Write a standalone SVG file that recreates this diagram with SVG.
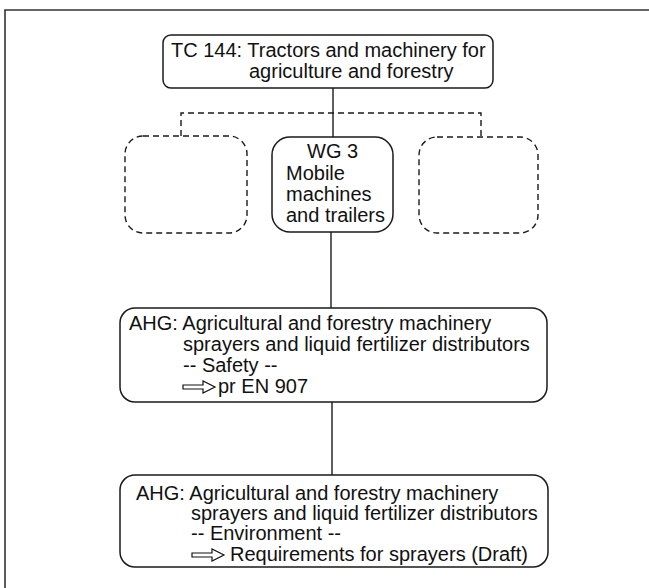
<svg xmlns="http://www.w3.org/2000/svg" xmlns:xlink="http://www.w3.org/1999/xlink" width="649" height="588" viewBox="0 0 649 588">
  <style>
    .box { fill: #fff; stroke: #1a1a1a; stroke-width: 1.5; }
    .dbox { fill: none; stroke: #1a1a1a; stroke-width: 1.4; stroke-dasharray: 6 4; }
    .conn { fill: none; stroke: #1a1a1a; stroke-width: 1.4; }
    .dconn { fill: none; stroke: #1a1a1a; stroke-width: 1.4; stroke-dasharray: 6 4; }
    .frame { fill: none; stroke: #333; stroke-width: 1.6; }
    text { font-family: "Liberation Sans", Arial, Helvetica, sans-serif; font-size: 20px; fill: #111; }
    .harrow { fill: none; stroke: #111; stroke-width: 1.2; stroke-linejoin: miter; }
  </style>
  <defs>
    <path id="hollowArrow" class="harrow" d="M0,-2 H20 V-6 L32,0 L20,6 V2 H0 Z"/>
  </defs>
  <rect width="649" height="588" fill="#fff"/>
  <g id="frame">
    <path class="frame" d="M5,588 V10 H649"/>
  </g>
  <g id="connectors">
    <line class="conn" x1="333" y1="88" x2="333" y2="137"/>
    <path class="dconn" d="M181,136 V113 H481 V137"/>
    <line class="conn" x1="331" y1="232" x2="331" y2="308"/>
    <line class="conn" x1="332" y1="402" x2="332" y2="475"/>
  </g>
  <g id="tc144">
    <rect class="box" x="163" y="35" width="330" height="53" rx="8"/>
    <text x="171" y="57">TC 144: Tractors and machinery for</text>
    <text x="249" y="78">agriculture and forestry</text>
  </g>
  <g id="wg-left">
    <rect class="dbox" x="125" y="136" width="122" height="97" rx="18"/>
  </g>
  <g id="wg3">
    <rect class="box" x="272" y="137" width="121" height="95" rx="18"/>
    <text x="307" y="158">WG 3</text>
    <text x="286" y="180">Mobile</text>
    <text x="286" y="201">machines</text>
    <text x="286" y="222">and trailers</text>
  </g>
  <g id="wg-right">
    <rect class="dbox" x="419" y="137" width="119" height="96" rx="18"/>
  </g>
  <g id="ahg-safety">
    <rect class="box" x="120" y="308" width="427" height="94" rx="15"/>
    <text x="129" y="330">AHG: Agricultural and forestry machinery</text>
    <text x="183" y="351">sprayers and liquid fertilizer distributors</text>
    <text x="183" y="372">-- Safety --</text>
    <use xlink:href="#hollowArrow" x="183" y="387"/>
    <text x="218" y="393">pr EN 907</text>
  </g>
  <g id="ahg-environment">
    <rect class="box" x="120" y="475" width="428" height="92" rx="15"/>
    <text x="136" y="500">AHG: Agricultural and forestry machinery</text>
    <text x="191" y="520">sprayers and liquid fertilizer distributors</text>
    <text x="191" y="540">-- Environment --</text>
    <use xlink:href="#hollowArrow" x="192" y="555"/>
    <text x="230" y="561">Requirements for sprayers (Draft)</text>
  </g>
</svg>
